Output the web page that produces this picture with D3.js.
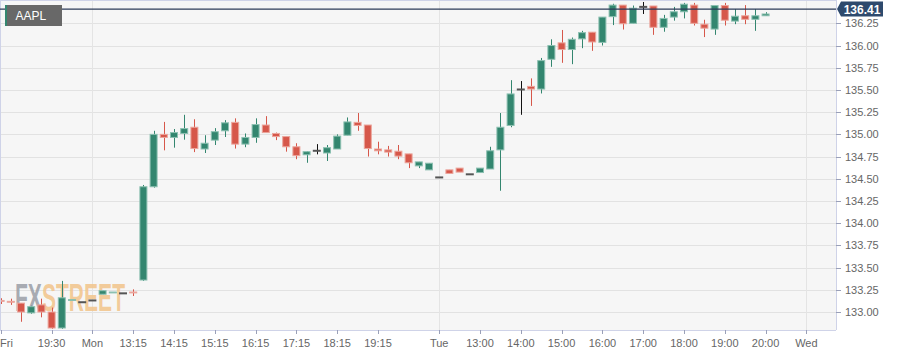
<!DOCTYPE html>
<html><head><meta charset="utf-8">
<script src="https://cdn.jsdelivr.net/npm/d3@7"></script>
<style>body{margin:0;background:#fff}svg{display:block}</style>
</head><body>
<script>
// ---- data (15-minute slots) ----
const slots = d3.range(0, 76);
const open  = [133.13,133.12,133.10,132.99,133.08,133.00,132.82,133.13,133.11,133.13,133.20,133.215,133.21,133.225,133.36,134.41,135.00,134.965,135.01,135.08,134.835,134.935,135.04,135.135,134.89,134.965,135.105,135.01,134.975,134.86,134.77,134.815,134.79,134.835,134.99,135.135,135.105,134.835,134.825,134.81,134.78,134.645,134.60,134.515,134.60,134.62,134.55,134.57,134.61,134.825,135.10,135.505,135.54,135.51,135.845,136.03,135.955,136.075,136.15,136.035,136.325,136.455,136.25,136.435,136.445,136.205,136.32,136.38,136.455,136.24,136.185,136.45,136.275,136.335,136.295,136.335];
const high  = [133.155,133.15,133.10,133.07,133.15,133.05,133.35,133.14,133.11,133.13,133.24,133.225,133.21,133.255,134.43,135.04,135.14,135.06,135.22,135.17,134.99,135.07,135.16,135.18,135.01,135.18,135.205,135.02,134.975,134.90,134.81,134.89,134.88,135.00,135.19,135.24,135.105,134.917,134.87,134.88,134.78,134.69,134.675,134.515,134.60,134.62,134.55,134.62,134.86,135.24,135.61,135.60,135.63,135.86,136.07,136.175,136.09,136.165,136.15,136.32,136.47,136.455,136.45,136.49,136.445,136.345,136.435,136.48,136.48,136.29,136.45,136.48,136.41,136.455,136.41,136.375];
const low   = [133.09,133.08,132.89,132.98,132.94,132.81,132.81,133.13,133.11,133.13,133.20,133.215,133.21,133.18,133.35,134.40,134.82,134.85,134.94,134.80,134.79,134.88,134.97,134.84,134.855,134.905,135.02,134.935,134.805,134.72,134.68,134.775,134.70,134.835,134.99,135.04,134.75,134.775,134.75,134.72,134.62,134.62,134.60,134.515,134.56,134.575,134.55,134.57,134.61,134.365,135.08,135.22,135.32,135.46,135.76,135.805,135.79,135.97,135.94,136.00,136.23,136.18,136.25,136.355,136.12,136.155,136.28,136.305,136.225,136.095,136.12,136.225,136.24,136.24,136.165,136.335];
const close = [133.12,133.11,133.00,133.06,133.00,132.82,133.16,133.14,133.11,133.13,133.24,133.225,133.21,133.215,134.41,135.00,134.965,135.02,135.065,134.84,134.90,135.03,135.13,134.89,134.965,135.11,135.02,134.975,134.86,134.76,134.805,134.815,134.85,134.98,135.14,135.10,134.84,134.815,134.80,134.755,134.68,134.69,134.675,134.515,134.56,134.575,134.55,134.62,134.815,135.08,135.455,135.505,135.51,135.83,136.00,135.955,136.07,136.145,136.04,136.32,136.455,136.245,136.42,136.435,136.205,136.305,136.38,136.465,136.25,136.195,136.45,136.285,136.33,136.295,136.335,136.355];
const lastPrice = 136.41;
const yTicks = [133.00,133.25,133.50,133.75,134.00,134.25,134.50,134.75,135.00,135.25,135.50,135.75,136.00,136.25];
const xTickSlots  = [0,5,9,13,17,21,25,29,33,37,43,47,51,55,59,63,67,71,75,79];
const xTickLabels = ["Fri","19:30","Mon","13:15","14:15","15:15","16:15","17:15","18:15","19:15","Tue","13:00","14:00","15:00","16:00","17:00","18:00","19:00","20:00","Wed"];
const daySlots = [9,43,79];
const symbol = "AAPL";

// ---- layout ----
const W = 907, H = 356, PW = 836, PH = 330;
const up = "#33866f", upEdge = "#8cc0b1", dn = "#d6574a", dnEdge = "#eba59c";
const frame = "#cfd3e8";

const svg = d3.select("body").append("svg").attr("width", W).attr("height", H);
const x = d3.scaleLinear().domain([0, 79]).range([0.6, 806.4]);
const y = d3.scaleLinear().domain([132.7974, 136.5124]).range([PH, 0]);
const crisp = v => Math.round(v) + 0.5;

svg.append("rect").attr("width", W).attr("height", H).attr("fill", "#fff");
svg.append("rect").attr("width", PW).attr("height", PH).attr("fill", "#f6f6f6");

// grid
svg.append("g").selectAll("line").data(yTicks).join("line")
  .attr("x1", 0).attr("x2", PW).attr("y1", d => crisp(y(d))).attr("y2", d => crisp(y(d)))
  .attr("stroke", "#e2e2e2").attr("stroke-width", 1);
svg.append("g").selectAll("line").data(daySlots).join("line")
  .attr("x1", d => crisp(x(d))).attr("x2", d => crisp(x(d))).attr("y1", 0).attr("y2", PH)
  .attr("stroke", "#e4e4e4").attr("stroke-width", 1);

// watermark (one text, squeezed horizontally to ~110px)
const wm = svg.append("text").attr("x", 0).attr("y", 0)
  .attr("font-family", "'Liberation Sans Narrow','Liberation Sans',Arial,sans-serif")
  .attr("font-weight", "bold").attr("font-size", 38);
wm.append("tspan").text("FX").attr("fill", "#9a9ea6").attr("fill-opacity", 0.85);
wm.append("tspan").text("STREET").attr("fill", "#f2c48a").attr("fill-opacity", 0.85);
const wmW = wm.node().getComputedTextLength() || 160;
wm.attr("transform", `translate(15,311) scale(${110 / wmW},1)`);

// candles
const g = svg.append("g");
slots.forEach(i => {
  const o = open[i], c = close[i], h = high[i], l = low[i];
  const cx = crisp(x(i));
  const doji = o === c;
  const col = doji ? "#111" : (c > o ? up : dn);
  const edge = doji ? "#777" : (c > o ? upEdge : dnEdge);
  if (h !== l) {
    g.append("line").attr("x1", cx).attr("x2", cx).attr("y1", y(h)).attr("y2", y(l))
      .attr("stroke", col).attr("stroke-width", 1);
  }
  if (doji) {
    g.append("rect").attr("x", x(i) - 4).attr("width", 8)
      .attr("y", y(o) - 1).attr("height", 2).attr("fill", "#555");
  } else {
    const top = y(Math.max(o, c)), bot = y(Math.min(o, c));
    g.append("rect").attr("x", x(i) - 3.5).attr("width", 7)
      .attr("y", top).attr("height", Math.max(0.8, bot - top))
      .attr("fill", col).attr("stroke", edge).attr("stroke-width", 1);
  }
});

// frame
svg.append("line").attr("x1", 0.5).attr("x2", 0.5).attr("y1", 0).attr("y2", PH).attr("stroke", frame);
svg.append("line").attr("x1", 0).attr("x2", PW).attr("y1", 0.5).attr("y2", 0.5).attr("stroke", frame);
svg.append("line").attr("x1", PW + 0.5).attr("x2", PW + 0.5).attr("y1", 0).attr("y2", PH).attr("stroke", frame);
svg.append("line").attr("x1", 0).attr("x2", PW).attr("y1", PH + 0.5).attr("y2", PH + 0.5).attr("stroke", frame);

// y axis
const ya = svg.append("g");
ya.selectAll("line").data(yTicks).join("line")
  .attr("x1", PW).attr("x2", PW + 5).attr("y1", d => crisp(y(d))).attr("y2", d => crisp(y(d)))
  .attr("stroke", "#9aa0b8");
ya.selectAll("text").data(yTicks).join("text")
  .attr("x", PW + 9).attr("y", d => y(d) + 4)
  .attr("font-family", "'Liberation Sans',Arial,sans-serif").attr("font-size", 11)
  .attr("fill", "#666").text(d => d.toFixed(2));

// x axis
const xa = svg.append("g");
xa.selectAll("line").data(xTickSlots).join("line")
  .attr("x1", d => crisp(x(d))).attr("x2", d => crisp(x(d))).attr("y1", PH).attr("y2", PH + 4)
  .attr("stroke", "#9aa0b8");
xa.selectAll("text").data(xTickSlots).join("text")
  .attr("x", (d, k) => k === 0 ? 0 : x(d)).attr("y", 347)
  .attr("text-anchor", (d, k) => k === 0 ? "start" : "middle")
  .attr("font-family", "'Liberation Sans',Arial,sans-serif").attr("font-size", 11)
  .attr("fill", "#666").text((d, k) => xTickLabels[k]);

// last price line + label
const py = y(lastPrice);
svg.append("line").attr("x1", 0).attr("x2", PW).attr("y1", py).attr("y2", py)
  .attr("stroke", "#2c3b58").attr("stroke-width", 1.2);
svg.append("path")
  .attr("d", `M${PW + 1},${py} L${PW + 5},${py - 7.5} L${PW + 47},${py - 7.5} L${PW + 47},${py + 7.5} L${PW + 5},${py + 7.5} Z`)
  .attr("fill", "#2e4a6d");
svg.append("text").attr("x", PW + 26).attr("y", py + 4.5).attr("text-anchor", "middle")
  .attr("font-family", "'Liberation Sans',Arial,sans-serif").attr("font-size", 12)
  .attr("font-weight", "bold").attr("fill", "#fff").text(lastPrice.toFixed(2));

// symbol label
svg.append("rect").attr("x", 5).attr("y", 5).attr("width", 57).attr("height", 21).attr("fill", "#686868");
svg.append("rect").attr("x", 5).attr("y", 5).attr("width", 2).attr("height", 21).attr("fill", up);
svg.append("text").attr("x", 15.5).attr("y", 20)
  .attr("font-family", "'Liberation Sans',Arial,sans-serif").attr("font-size", 12)
  .attr("fill", "#fff").text(symbol);
</script>
</body></html>
